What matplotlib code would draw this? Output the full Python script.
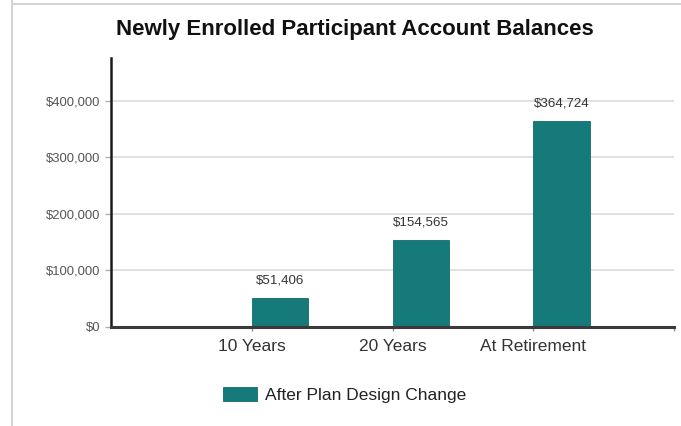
import matplotlib
matplotlib.use("Agg")
import matplotlib.pyplot as plt
from matplotlib.lines import Line2D
from matplotlib.ticker import FuncFormatter

plt.rcParams['font.family'] = ['Liberation Sans', 'DejaVu Sans']

# Chart data
categories = ["10 Years", "20 Years", "At Retirement"]
balances = [51406, 154565, 364724]
series_name = "After Plan Design Change"
y_ticks = [0, 100000, 200000, 300000, 400000]

W, H = 681, 426
fig = plt.figure(figsize=(W / 100, H / 100), dpi=100)
fig.patch.set_facecolor("white")

# thin frame around the chart area
fig.add_artist(Line2D([12 / W, 12 / W], [0, 1], color="#d4d4d4", lw=1.5,
                      transform=fig.transFigure))
fig.add_artist(Line2D([12 / W, 1], [1 - 3.5 / H, 1 - 3.5 / H], color="#d4d4d4", lw=1.5,
                      transform=fig.transFigure))

left, right, bottom, top = 111 / W, 674 / W, 1 - 327 / H, 1 - 58 / H
ax = fig.add_axes([left, bottom, right - left, top - bottom])

bar_color = "#16797a"
positions = [i + 1 for i in range(len(categories))]
bars = ax.bar(positions, balances, width=0.4, align="edge", color=bar_color,
              edgecolor="#126a6b", linewidth=0.6, label=series_name, zorder=3)

for x, v in zip(positions, balances):
    ax.annotate(f"${v:,.0f}", xy=(x + 0.2, v), xytext=(0, 12.5),
                textcoords="offset points", ha="center", va="center",
                fontsize=9.6, color="#333333", zorder=4)

ax.set_xlim(0, 4)
ax.set_ylim(0, 476000)
ax.set_yticks(y_ticks)
ax.yaxis.set_major_formatter(FuncFormatter(lambda v, p: f"${v:,.0f}"))
ax.set_xticks(positions)
ax.set_xticklabels(categories)
ax.set_xticks([4], minor=True)

ax.grid(axis="y", color="#dcdcdc", linewidth=1.2, zorder=0)
ax.set_axisbelow(True)

for s in ("top", "right"):
    ax.spines[s].set_visible(False)
ax.spines["left"].set_color("#1a1a1a")
ax.spines["left"].set_linewidth(1.8)
ax.spines["bottom"].set_color("#3a3a3a")
ax.spines["bottom"].set_linewidth(2.2)
ax.spines["bottom"].set_zorder(5)

ax.tick_params(axis="y", length=4.5, width=1, color="#b0b0b0", pad=3,
               labelsize=9.4, labelcolor="#555555")
ax.tick_params(axis="x", which="both", length=3, width=1, color="#909090", pad=5.5,
               labelsize=12.5, labelcolor="#333333")

fig.text(355 / W, 1 - 30 / H, "Newly Enrolled Participant Account Balances",
         ha="center", va="center", fontsize=16, fontweight="bold", color="#111111")

leg = fig.legend(handles=[bars], labels=[series_name], loc="center left",
                 bbox_to_anchor=(222.7 / W, 1 - 395 / H), frameon=False,
                 fontsize=12.5, handlelength=2.0, handleheight=0.92,
                 handletextpad=0.42, borderpad=0, borderaxespad=0)
for t in leg.get_texts():
    t.set_color("#222222")

fig.savefig("out.png", dpi=100, facecolor="white")
